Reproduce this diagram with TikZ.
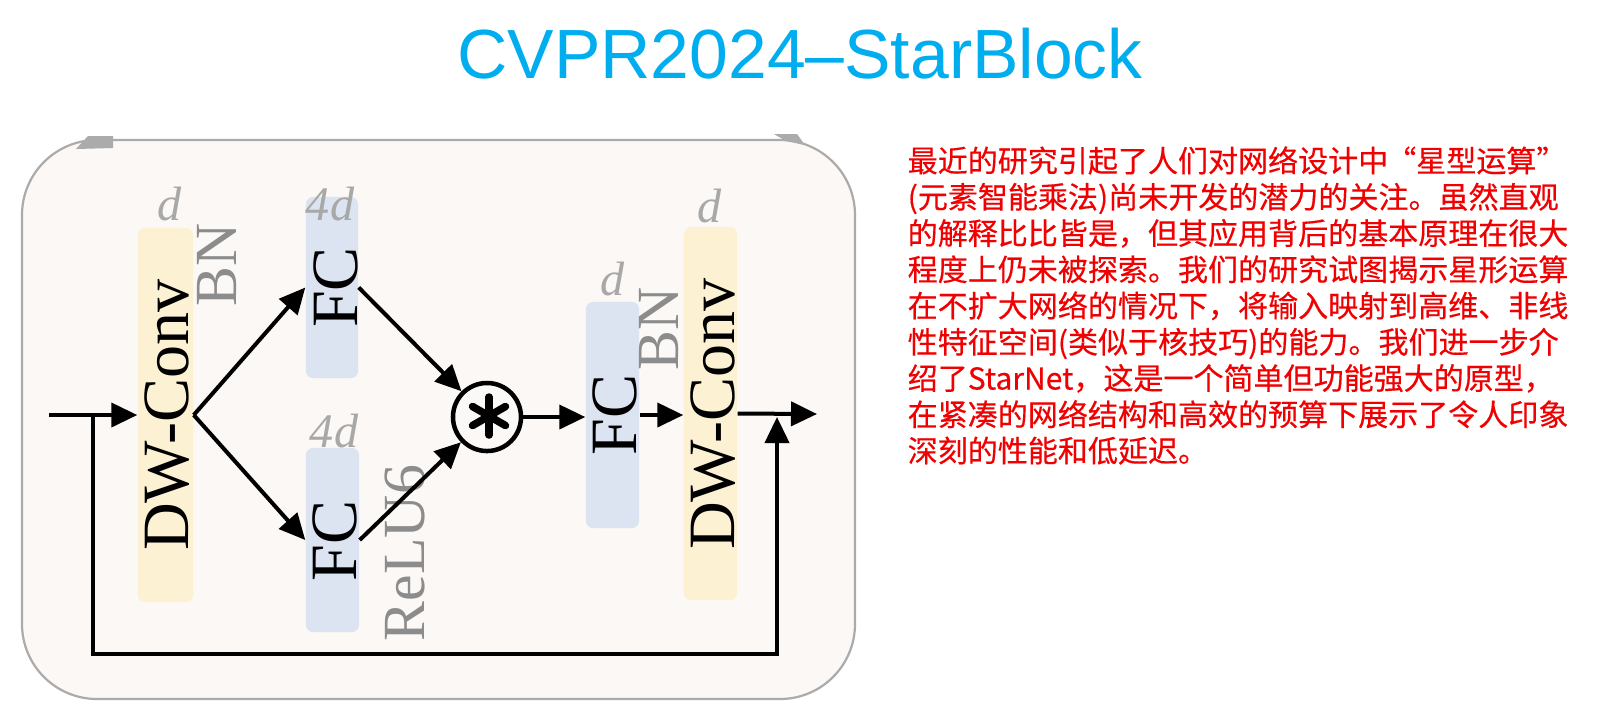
\documentclass[tikz,border=0pt]{standalone}
\usepackage{fontspec}
\setmainfont{Liberation Serif}
\newfontfamily\titlefont{Liberation Sans}
\newfontfamily\cjkfont[FakeBold=0.4]{Noto Sans CJK SC}
\usetikzlibrary{arrows.meta,calc}
\definecolor{framefill}{HTML}{FBF8F5}
\definecolor{framedraw}{HTML}{ABABAB}
\definecolor{yel}{HTML}{FCF2D3}
\definecolor{blu}{HTML}{DCE3F1}
\definecolor{lbl}{HTML}{8C8C8C}
\definecolor{dlbl}{HTML}{A8A8A8}
\definecolor{ttl}{HTML}{00AEEF}
\definecolor{txt}{HTML}{F00000}
\newcommand\myopenq{\kern-0.02cm“}
\newcommand\mycloseq{”}
\begin{document}
\begin{tikzpicture}[x=0.01cm,y=-0.01cm,
  blockbox/.style={rounded corners=0.07cm, inner sep=0pt, draw=none},
  yelbox/.style={blockbox, fill=yel},
  blubox/.style={blockbox, fill=blu},
  vlabel/.style={rotate=90, inner sep=0pt, font=\fontsize{18.8pt}{20pt}\selectfont},
  glabel/.style={rotate=90, inner sep=0pt, text=lbl, font=\fontsize{17pt}{18pt}\selectfont},
  dimlabel/.style={anchor=base, inner sep=0pt, text=dlbl, font=\fontsize{13.7pt}{14pt}\selectfont\itshape},
  flow/.style={line width=0.04cm, -{Triangle[length=0.26cm,width=0.24cm]}},
  cjkline/.style={anchor=base west, inner sep=0pt, text=txt, font=\cjkfont\fontsize{8.54pt}{10pt}\selectfont}
]
\useasboundingbox (0,0) rectangle (1600,714);
\fill[white] (0,0) rectangle (1600,714);

% title
\node[anchor=base, inner sep=0pt, text=ttl, font=\titlefont\fontsize{19.8pt}{22pt}\selectfont] (title) at (800,78) {CVPR2024–StarBlock};

% frame
\draw[fill=framefill, draw=framedraw, line width=0.022cm, rounded corners=0.75cm] (22,140) rectangle (855,699);
\fill[framedraw] (76,149) -- (88,136) -- (113,136) -- (113,148) -- cycle;
\fill[framedraw] (774,134) -- (797,134) -- (805,145) -- (786,141) -- cycle;

% boxes
\node[yelbox, minimum width=0.55cm, minimum height=3.74cm] (dw1box) at (165.5,415) {};
\node[blubox, minimum width=0.52cm, minimum height=1.81cm] (fc1box) at (332,287.5) {};
\node[blubox, minimum width=0.53cm, minimum height=1.84cm] (fc2box) at (332.5,540) {};
\node[blubox, minimum width=0.53cm, minimum height=2.26cm] (fc3box) at (612.5,415) {};
\node[yelbox, minimum width=0.53cm, minimum height=3.73cm] (dw2box) at (710.5,413.5) {};

% dimension labels
\node[dimlabel] (d1) at (170,220) {d};
\node[dimlabel] (d2) at (330,220) {4d};
\node[dimlabel] (d3) at (334,447) {4d};
\node[dimlabel] (d4) at (613,295) {d};
\node[dimlabel] (d5) at (710,222) {d};

% box texts
\node[vlabel] (dw1text) at (167,415) {DW-Conv};
\node[vlabel] (fc1text) at (335.5,287.5) {FC};
\node[vlabel] (fc2text) at (334.5,541) {FC};
\node[vlabel] (fc3text) at (615,415) {FC};
\node[vlabel] (dw2text) at (713,414) {DW-Conv};

% gray labels
\node[glabel] (bn1) at (217.5,265) {BN};
\node[glabel] (bn2) at (659,329) {BN};
\node[glabel] (relu) at (404.5,553) {ReLU6};

% star operator
\node[circle, draw, line width=0.045cm, minimum size=0.68cm, inner sep=0pt,
  path picture={
    \foreach \a in {90,30,150}
      \draw[line width=0.075cm, line cap=round]
        ($(path picture bounding box.center)+(0.02cm,0.01cm)+(\a:0.19cm)$) --
        ($(path picture bounding box.center)+(0.02cm,0.01cm)+(\a+180:0.19cm)$);
  }] (star) at (487,417) {};

% coordinates
\coordinate (in) at (49,415);
\coordinate (skipa) at (93,415);
\coordinate (skipb) at (93,654);
\coordinate (skipc) at (777,654);
\coordinate (skipend) at (777,417);
\coordinate (out) at (817,414);

% connectors
\draw[flow] (in) -- (dw1box.west);
\draw[flow] (dw1box.east) -- (fc1box.west);
\draw[flow] (dw1box.east) -- (fc2box.west);
\draw[flow] (fc1box.east) -- (star);
\draw[flow] (fc2box.east) -- (star);
\draw[flow] (star.east) -- (star.east -| fc3box.west);
\draw[flow] (fc3box.east) -- (fc3box.east -| dw2box.west);
\draw[flow] (dw2box.east) -- (out);
\draw[flow] (skipa) -- (skipb) -- (skipc) -- (skipend);

% description
\foreach \t [count=\i] in {
  {最近的研究引起了人们对网络设计中\myopenq 星型运算\mycloseq},
  {(元素智能乘法)尚未开发的潜力的关注。虽然直观},
  {的解释比比皆是，但其应用背后的基本原理在很大},
  {程度上仍未被探索。我们的研究试图揭示星形运算},
  {在不扩大网络的情况下，将输入映射到高维、非线},
  {性特征空间(类似于核技巧)的能力。我们进一步介},
  {绍了StarNet，这是一个简单但功能强大的原型，},
  {在紧凑的网络结构和高效的预算下展示了令人印象},
  {深刻的性能和低延迟。}}
  \node[cjkline] (line\i) at (907,{172+36.25*(\i-1)}) {\t};
\end{tikzpicture}
\end{document}
